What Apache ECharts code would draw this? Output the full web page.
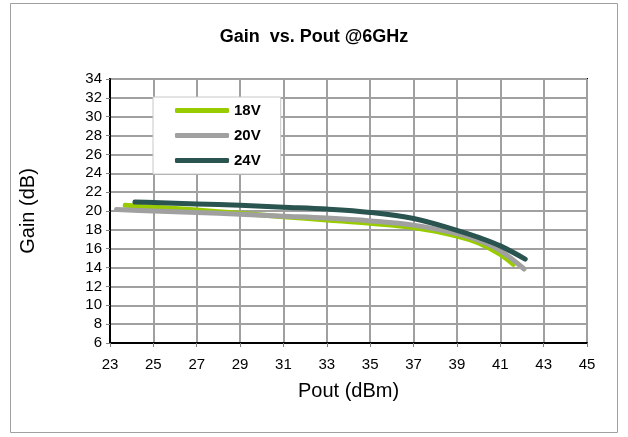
<!DOCTYPE html>
<html>
<head>
<meta charset="utf-8">
<script src="https://cdn.jsdelivr.net/npm/echarts@6/dist/echarts.min.js"></script>
<style>
  html, body { margin: 0; padding: 0; background: #fff; }
  #chart { width: 628px; height: 437px; }
</style>
</head>
<body>
<div id="chart"></div>
<script>
// 18V
var pout18 = [23.7, 25, 27, 29, 31, 33, 35, 37, 39, 40, 41, 41.6];
var gain18 = [20.6, 20.4, 20.1, 19.75, 19.4, 19.05, 18.7, 18.25, 17.35, 16.6, 15.4, 14.35];
// 20V
var pout20 = [23.3, 25, 27, 29, 31, 33, 35, 37, 39, 40, 41, 42.1];
var gain20 = [20.15, 20.0, 19.85, 19.65, 19.45, 19.25, 18.95, 18.5, 17.6, 16.9, 15.8, 13.85];
// 24V
var pout24 = [24.15, 25, 27, 29, 31, 33, 35, 37, 39, 40, 41, 42.15];
var gain24 = [20.95, 20.9, 20.75, 20.6, 20.4, 20.2, 19.85, 19.2, 17.95, 17.2, 16.3, 14.9];

var seriesNames = ["18V", "20V", "24V"];
var seriesColors = ["#99cc00", "#a0a0a0", "#2a5450"];

function pairs(xs, ys) {
    var out = [];
    for (var i = 0; i < xs.length; i++) out.push([xs[i], ys[i]]);
    return out;
}

var seriesData = [pairs(pout18, gain18), pairs(pout20, gain20), pairs(pout24, gain24)];
var font = "Arial, 'Liberation Sans', sans-serif";

var chart = echarts.init(document.getElementById("chart"), null, {renderer: "canvas"});

var option = {
    animation: false,
    backgroundColor: "#fff",
    title: {
        text: "Gain  vs. Pout @6GHz",
        left: "center",
        top: 23,
        textStyle: {fontFamily: font, fontSize: 18, fontWeight: "bold", color: "#000"}
    },
    graphic: [{
        type: "rect",
        shape: {x: 10.5, y: 3.5, width: 607, height: 429},
        style: {fill: null, stroke: "#a0a0a0", lineWidth: 1},
        z: -1
    }],
    legend: {
        orient: "vertical",
        left: 153,
        top: 97,
        data: seriesNames,
        icon: "roundRect",
        itemWidth: 54,
        itemHeight: 5,
        itemGap: 10,
        itemStyle: {borderWidth: 0},
        padding: [6, 20, 6, 22],
        backgroundColor: "#fff",
        borderColor: "#c8c8c8",
        borderWidth: 1,
        textStyle: {fontFamily: font, fontSize: 15, fontWeight: "bold", color: "#000"}
    },
    grid: {
        left: 110, right: 41, top: 79, bottom: 94,
        show: true, borderColor: "#000", borderWidth: 2, backgroundColor: "#fff"
    },
    xAxis: {
        type: "value",
        min: 23, max: 45, interval: 2,
        name: "Pout (dBm)",
        nameLocation: "middle",
        nameGap: 38,
        nameTextStyle: {fontFamily: font, fontSize: 20, color: "#000"},
        axisLine: {show: true, lineStyle: {color: "#000", width: 2}},
        axisTick: {show: true, length: 4, lineStyle: {color: "#808080"}},
        axisLabel: {fontFamily: font, fontSize: 15, color: "#000", margin: 14},
        splitLine: {show: true, lineStyle: {color: "#a0a0a0", width: 2}}
    },
    yAxis: {
        type: "value",
        min: 6, max: 34, interval: 2,
        name: "Gain (dB)",
        nameLocation: "middle",
        nameGap: 72,
        nameTextStyle: {fontFamily: font, fontSize: 20, color: "#000"},
        axisLine: {show: true, lineStyle: {color: "#000", width: 2}},
        axisTick: {show: true, length: 4, lineStyle: {color: "#808080"}},
        axisLabel: {fontFamily: font, fontSize: 15, color: "#000", margin: 8},
        splitLine: {show: true, lineStyle: {color: "#a0a0a0", width: 2}}
    },
    series: seriesNames.map(function (name, i) {
        return {
            name: name,
            type: "line",
            data: seriesData[i],
            smooth: 0.35,
            symbol: "none",
            color: seriesColors[i],
            lineStyle: {width: 5, color: seriesColors[i], cap: "round", join: "round"}
        };
    })
};

chart.setOption(option);
</script>
</body>
</html>
